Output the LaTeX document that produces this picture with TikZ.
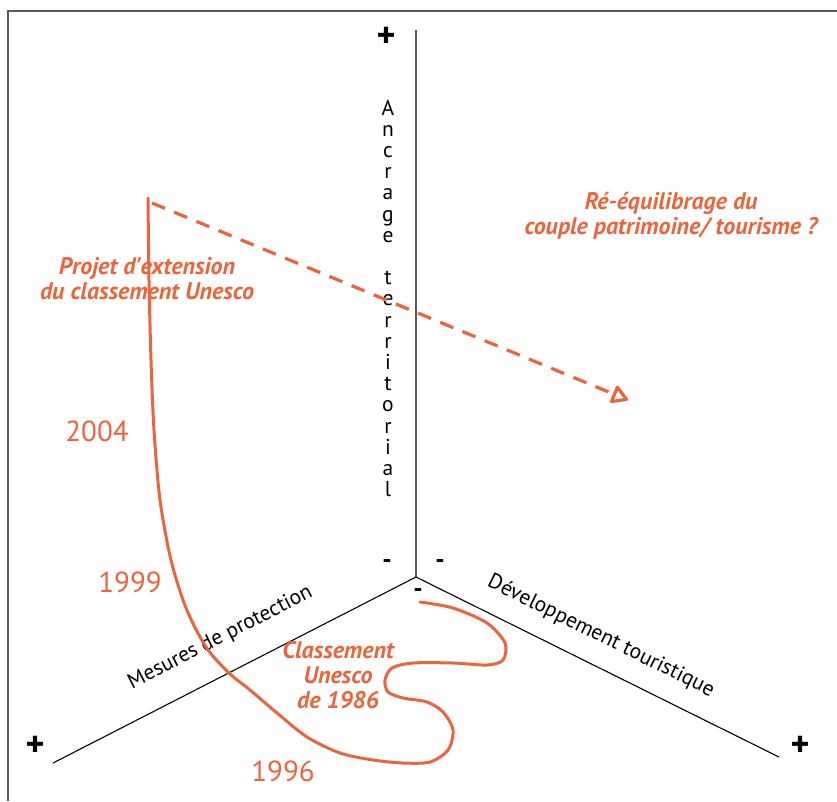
\documentclass[tikz,border=0pt]{standalone}
\usepackage{fontspec}
\setmainfont{PT Sans}
\usetikzlibrary{arrows.meta}
\definecolor{rouge}{RGB}{238,100,58}
\tikzset{
  axe/.style={line width=1.1pt, black},
  signe/.style={font=\fontsize{36}{36}\selectfont\bfseries},
  moins/.style={font=\fontsize{26}{26}\selectfont\bfseries},
  titre/.style={text=rouge, align=center,
                font=\fontsize{24}{25}\selectfont\bfseries\itshape},
  annee/.style={text=rouge, font=\fontsize{29}{29}\selectfont},
  axetxt/.style={font=\fontsize{21.5}{21.5}\selectfont}
}

\begin{document}
\begin{tikzpicture}[x=1pt,y=-1pt]
  \useasboundingbox (0,0) rectangle (837,801);
  \draw[line width=1.5pt, black!65] (837,11) -- (8,11) -- (8,801);

  % les trois axes
  \coordinate (O) at (416,577);
  \coordinate (haut) at (416,30);
  \coordinate (gauche) at (53,763);
  \coordinate (droite) at (779,757);
  \draw[axe] (haut) -- (O) -- (gauche);
  \draw[axe] (O) -- (droite);

  \node[signe] (phaut) at (386,37) {+};
  \node[signe] (pgauche) at (35,746) {+};
  \node[signe] (pdroite) at (800,746) {+};
  \node[moins] (m1) at (387,564) {-};
  \node[moins] (m2) at (440,564) {-};
  \node[moins] (m3) at (418,593) {-};

  \foreach \c [count=\i] in {A,n,c,r,a,g,e,{},t,e,r,r,i,t,o,r,i,a,l}{
    \node[axetxt, anchor=base] (lettre\i) at (388,{115+(\i-1)*21.2}) {\c};
  }
  \path (O) -- (gauche) node[axetxt, pos=0.495, sloped, yshift=35pt] (protec) {Mesures de protection};
  \path (O) -- (droite) node[axetxt, pos=0.474, sloped, yshift=29pt] (tour) {Développement touristique};

  % trajectoire
  \draw[rouge, line width=3pt, line cap=round] plot[smooth, tension=0.5] coordinates {
    (148,198) (149,280) (151,360) (154,430) (160,500) (171,560) (186,608)
    (206,647) (229,673) (250,690) (277,713) (307,737) (340,753) (373,760)
    (403,763) (430,762) (448,750) (453,730) (443,712) (427,702) (403,698)
    (388,692) (385,680) (392,668) (413,663) (453,663) (487,665) (503,660)
    (505,643) (487,623) (453,608) (420,602)};

  \coordinate (depart) at (152,203);
  \coordinate (fin) at (628,400);
  \draw[rouge, line width=3.2pt, dash pattern=on 14pt off 10pt,
        -{Triangle[open, length=18pt, width=20pt, line join=round]}] (depart) -- (fin);

  \node[titre] (projet) at (147,279) {Projet d\textquotesingle extension\\du classement Unesco};
  \node[titre] (equil) at (671,216) {Ré-équilibrage du\\couple patrimoine/ tourisme ?};
  \node[titre] (classe) at (338,675) {Classement\\Unesco\\de 1986};

  \node[annee] (a2004) at (97,431) {2004};
  \node[annee] (a1999) at (130,582) {1999};
  \node[annee] (a1996) at (283,771) {1996};
\end{tikzpicture}
\end{document}
